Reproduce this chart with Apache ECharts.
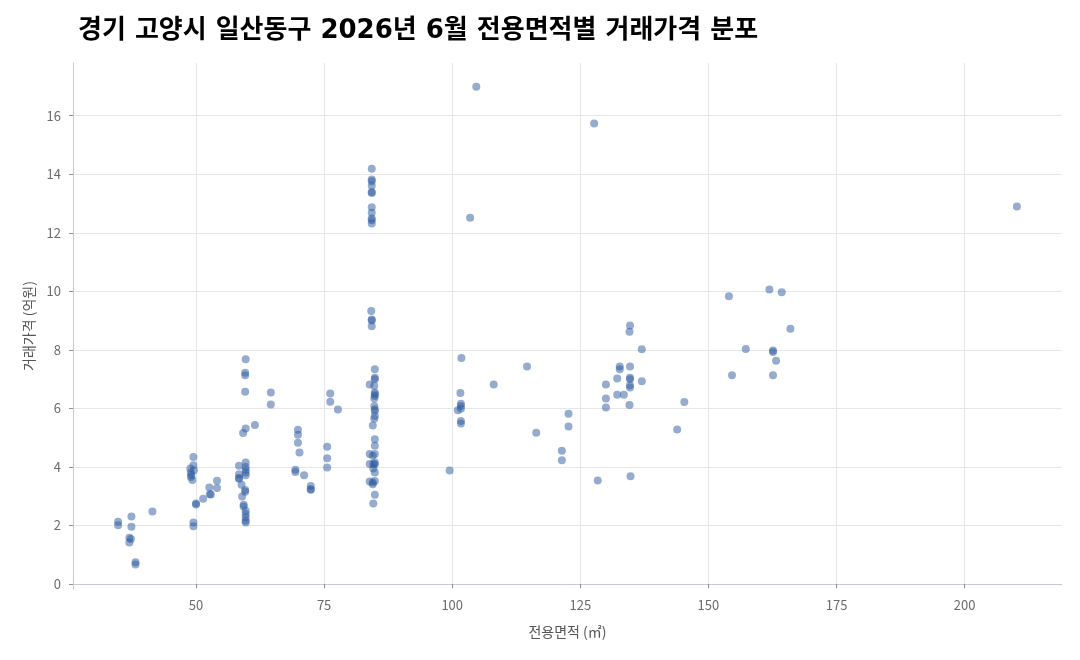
<!DOCTYPE html>
<html>
<head>
<meta charset="utf-8">
<script src="https://cdn.jsdelivr.net/npm/echarts@6/dist/echarts.min.js"></script>
<style>
html,body{margin:0;padding:0;background:#fff;}
#chart{width:1080px;height:660px;}
</style>
</head>
<body>
<div id="chart"></div>
<script>
// 전용면적 (㎡)
const area = [
  34.8, 34.8, 37.4, 37.4, 37.0, 37.3, 37.0, 38.2, 38.2, 41.5,
  49.5, 49.5, 48.9, 49.6, 49.0, 49.1, 49.0, 49.3, 50.0, 50.0, 49.5, 49.5,
  51.4, 52.6, 52.7, 52.9, 54.1, 54.1,
  59.7, 59.6, 59.6, 59.6, 59.7, 59.2, 61.5, 59.7, 58.4, 59.7, 59.7, 59.7, 59.7, 58.4, 58.4, 58.4,
  58.9, 59.6, 59.6, 59.0, 59.3, 59.3, 59.7, 59.7, 59.7, 59.7, 59.7,
  64.6, 64.6,
  69.9, 69.9, 69.9, 70.2, 69.4, 69.4, 71.1, 72.4, 72.4, 72.4,
  75.6, 75.6, 75.6, 76.2, 76.2, 77.7,
  84.3, 84.3, 84.3, 84.3, 84.3, 84.3, 84.3, 84.3, 84.3, 84.3, 84.3,
  84.2, 84.3, 84.3, 84.3,
  84.9, 84.9, 84.9, 83.9, 84.8, 84.9, 84.9, 84.9, 84.8, 84.8, 84.9, 84.9, 84.9, 84.8, 84.5,
  84.9, 84.9, 83.9, 84.9, 84.5, 84.9, 83.9, 84.6, 84.9, 84.6, 84.9,
  83.9, 84.9, 84.5, 84.5, 84.9, 84.6,
  99.5, 101.8, 101.6, 101.7, 101.7, 101.7, 101.1, 101.7, 101.7, 103.5, 104.7, 108.1, 114.6, 116.4,
  121.4, 121.4, 122.7, 122.7, 127.7, 128.4, 130.0, 130.0, 130.0, 132.2, 132.2, 132.7, 132.7, 133.5,
  134.7, 134.6, 134.7, 134.7, 134.7, 134.7, 134.7, 134.6, 134.8, 137.0, 137.0, 143.9, 145.3,
  154.0, 154.6, 157.3, 161.9, 162.6, 162.6, 162.6, 163.2, 164.3, 166.0, 210.2
];
// 거래가격 (억원)
const price = [
  2.13, 2.01, 2.31, 1.96, 1.58, 1.54, 1.42, 0.74, 0.67, 2.48,
  4.34, 4.06, 3.95, 3.89, 3.81, 3.72, 3.66, 3.55, 2.75, 2.72, 2.10, 1.97,
  2.91, 3.30, 3.07, 3.06, 3.53, 3.28,
  7.68, 7.22, 7.13, 6.57, 5.31, 5.16, 5.43, 4.15, 4.04, 4.00, 3.90, 3.81, 3.72, 3.75, 3.62, 3.60,
  3.39, 3.21, 3.15, 2.99, 2.71, 2.65, 2.50, 2.39, 2.28, 2.16, 2.10,
  6.54, 6.13,
  5.27, 5.10, 4.83, 4.49, 3.90, 3.83, 3.72, 3.35, 3.22, 3.24,
  4.69, 4.30, 3.98, 6.51, 6.23, 5.96,
  14.19, 13.82, 13.76, 13.61, 13.39, 13.36, 12.87, 12.68, 12.49, 12.43, 12.32,
  9.33, 9.04, 9.00, 8.81,
  7.34, 7.05, 7.00, 6.82, 6.77, 6.54, 6.48, 6.42, 6.34, 6.08, 5.97, 5.91, 5.74, 5.65, 5.42,
  4.95, 4.72, 4.44, 4.44, 4.38, 4.15, 4.10, 4.09, 4.09, 3.95, 3.81,
  3.50, 3.52, 3.47, 3.41, 3.05, 2.75,
  3.88, 7.72, 6.53, 6.16, 6.08, 5.99, 5.94, 5.57, 5.48, 12.51, 16.99, 6.82, 7.43, 5.17,
  4.55, 4.23, 5.82, 5.38, 15.73, 3.54, 6.82, 6.34, 6.03, 7.02, 6.47, 7.43, 7.34, 6.47,
  8.83, 8.62, 7.43, 7.05, 7.00, 6.79, 6.71, 6.12, 3.68, 8.02, 6.93, 5.28, 6.22,
  9.83, 7.13, 8.03, 10.06, 7.98, 7.93, 7.13, 7.63, 9.97, 8.72, 12.90
];
const xTicks = [50, 75, 100, 125, 150, 175, 200];
const yTicks = [0, 2, 4, 6, 8, 10, 12, 14, 16];

const points = area.map((a, i) => [a, price[i]]);
const font = "'Noto Sans CJK KR', 'Noto Sans', sans-serif";
const titleFont = "'DejaVu Sans', 'Noto Sans CJK KR', sans-serif";
const chart = echarts.init(document.getElementById('chart'), null, {renderer: 'canvas'});
chart.setOption({
  backgroundColor: '#ffffff',
  animation: false,
  title: {
    text: '경기 고양시 일산동구 2026년 6월 전용면적별 거래가격 분포',
    left: 73, top: 13,
    textStyle: {fontFamily: titleFont, fontSize: 26, fontWeight: 'bold', color: '#000000'}
  },
  grid: {left: 73, right: 18, top: 63, bottom: 71, containLabel: false},
  xAxis: {
    type: 'value', min: 26.0, max: 219.0,
    name: '전용면적 (㎡)', nameLocation: 'middle', nameGap: 36,
    nameTextStyle: {fontFamily: font, fontSize: 14, color: '#555555'},
    axisLine: {show: true, lineStyle: {color: '#c5c9d3', width: 1}},
    axisTick: {show: true, customValues: xTicks, length: 4, lineStyle: {color: '#8a8f99'}},
    axisLabel: {customValues: xTicks, margin: 10, fontFamily: font, fontSize: 13, color: '#6b6b6b'},
    splitLine: {show: true, lineStyle: {color: '#e6e6e6', width: 1}}
  },
  yAxis: {
    type: 'value', min: -0.17, max: 17.80,
    name: '거래가격 (억원)', nameLocation: 'middle', nameGap: 36, nameRotate: 90,
    nameTextStyle: {fontFamily: font, fontSize: 14, color: '#555555'},
    axisLine: {show: true, lineStyle: {color: '#c5c9d3', width: 1}},
    axisTick: {show: true, customValues: yTicks, length: 4, lineStyle: {color: '#8a8f99'}},
    axisLabel: {customValues: yTicks, margin: 12, fontFamily: font, fontSize: 13, color: '#6b6b6b'},
    splitLine: {show: true, lineStyle: {color: '#e6e6e6', width: 1}}
  },
  series: [{
    type: 'scatter',
    data: points,
    symbolSize: 8,
    itemStyle: {color: '#2c5aa0', opacity: 0.5}
  }]
});
</script>
</body>
</html>
